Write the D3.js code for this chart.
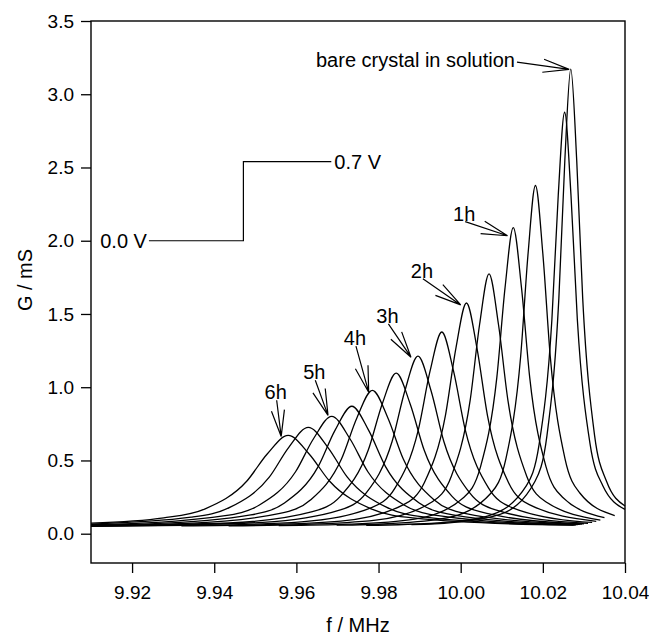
<!DOCTYPE html>
<html>
<head>
<meta charset="utf-8">
<script src="https://cdn.jsdelivr.net/npm/d3@7"></script>
<style>
  body { margin: 0; background: #fff; }
  text { font-family: "Liberation Sans", Arial, sans-serif; fill: #000; }
</style>
</head>
<body>
<svg id="chart" width="649" height="636"></svg>
<script>
// tick values
const xTicks = [9.92, 9.94, 9.96, 9.98, 10.00, 10.02, 10.04];
const yTicks = [0.0, 0.5, 1.0, 1.5, 2.0, 2.5, 3.0, 3.5];

// resonance sweeps, [f (MHz), G (mS)]
const sweep0 = [[9.988,0.062],[9.9978,0.076],[10.0094,0.130],[10.0181,0.358],[10.021,0.670],[10.0239,1.608],[10.02535,2.546],[10.0268,3.171],[10.02825,2.546],[10.0297,1.608],[10.0326,0.670],[10.0355,0.358],[10.04,0.189]];
const sweep1 = [[9.977,0.057],[9.9943,0.073],[10.0067,0.122],[10.016,0.328],[10.0191,0.611],[10.0222,1.461],[10.02375,2.311],[10.0253,2.877],[10.02685,2.311],[10.0284,1.461],[10.0315,0.611],[10.0346,0.328],[10.04,0.166]];
const sweep2 = [[9.9698,0.058],[9.9822,0.068],[9.9966,0.108],[10.0074,0.278],[10.011,0.511],[10.0146,1.211],[10.0164,1.911],[10.0182,2.377],[10.02,1.911],[10.0218,1.211],[10.0254,0.511],[10.029,0.278],[10.0375,0.124]];
const sweep3 = [[9.9557,0.055],[9.9728,0.065],[9.9888,0.100],[10.0008,0.249],[10.0048,0.454],[10.0088,1.067],[10.0108,1.680],[10.0128,2.089],[10.0148,1.680],[10.0168,1.067],[10.0208,0.454],[10.0248,0.249],[10.035,0.109]];
const sweep4 = [[9.9435,0.054],[9.9609,0.062],[9.9793,0.092],[9.9931,0.218],[9.9977,0.391],[10.0023,0.910],[10.0046,1.428],[10.0069,1.774],[10.0092,1.428],[10.0115,0.910],[10.0161,0.391],[10.0207,0.218],[10.034,0.093]];
const sweep5 = [[9.932,0.053],[9.9504,0.060],[9.9708,0.086],[9.9861,0.198],[9.9912,0.351],[9.9963,0.810],[9.99885,1.269],[10.0014,1.575],[10.00395,1.269],[10.0065,0.810],[10.0116,0.351],[10.0167,0.198],[10.033,0.084]];
const sweep6 = [[9.91,0.051],[9.9384,0.058],[9.9612,0.081],[9.9783,0.178],[9.984,0.311],[9.9897,0.711],[9.99255,1.111],[9.9954,1.377],[9.99825,1.111],[10.0011,0.711],[10.0068,0.311],[10.0125,0.178],[10.0296,0.081],[10.032,0.077]];
const sweep7 = [[9.91,0.052],[9.9266,0.057],[9.9518,0.077],[9.9707,0.162],[9.977,0.278],[9.9833,0.629],[9.98645,0.979],[9.9896,1.212],[9.99275,0.979],[9.9959,0.629],[10.0022,0.278],[10.0085,0.162],[10.0274,0.077],[10.031,0.071]];
const sweep8 = [[9.91,0.054],[9.9435,0.073],[9.9639,0.150],[9.9707,0.255],[9.9775,0.571],[9.9809,0.886],[9.9843,1.096],[9.9877,0.886],[9.9911,0.571],[9.9979,0.255],[10.0047,0.150],[10.0251,0.073],[10.030,0.068]];
const sweep9 = [[9.91,0.056],[9.9335,0.070],[9.956,0.138],[9.9635,0.232],[9.971,0.512],[9.97475,0.792],[9.9785,0.979],[9.98225,0.792],[9.986,0.512],[9.9935,0.232],[10.001,0.138],[10.0235,0.070],[10.0295,0.065]];
const sweep10 = [[9.91,0.059],[9.9243,0.067],[9.9489,0.128],[9.9571,0.210],[9.9653,0.458],[9.9694,0.705],[9.9735,0.870],[9.9776,0.705],[9.9817,0.458],[9.9899,0.210],[9.9981,0.128],[10.0227,0.067],[10.029,0.063]];
const sweep11 = [[9.91,0.062],[9.9158,0.065],[9.9422,0.121],[9.951,0.196],[9.9598,0.423],[9.9642,0.650],[9.9686,0.801],[9.973,0.650],[9.9774,0.423],[9.9862,0.196],[9.995,0.121],[10.0214,0.065],[10.0285,0.062]];
const sweep12 = [[9.91,0.066],[9.9344,0.113],[9.9439,0.181],[9.9534,0.386],[9.95815,0.590],[9.9629,0.726],[9.96765,0.590],[9.9724,0.386],[9.9819,0.181],[9.9914,0.113],[10.0199,0.063],[10.028,0.059]];
const sweep13 = [[9.91,0.072],[9.9277,0.108],[9.9378,0.170],[9.9479,0.358],[9.95295,0.546],[9.958,0.671],[9.96305,0.546],[9.9681,0.358],[9.9782,0.170],[9.9883,0.108],[10.0186,0.062],[10.0275,0.058]];

const sweeps = [sweep0, sweep1, sweep2, sweep3, sweep4, sweep5, sweep6,
                sweep7, sweep8, sweep9, sweep10, sweep11, sweep12, sweep13];

// arrow annotations: label, tail [f, G], tip [f, G]
const arrowLabels = ["bare crystal in solution", "1h", "2h", "3h", "4h", "5h", "6h"];
const arrowTails = [[10.0137,3.219],[10.0011,2.130],[9.9908,1.740],[9.9824,1.432],[9.9745,1.281],[9.9646,1.048],[9.9552,0.911]];
const arrowTips  = [[10.0264,3.170],[10.0114,2.034],[10.0000,1.562],[9.9879,1.205],[9.9776,0.966],[9.9677,0.808],[9.9563,0.664]];

// potential step inset
const stepF = [9.9241, 9.9471, 9.9471, 9.9685];
const stepG = [2.0, 2.0, 2.54, 2.54];
const stepLabels = ["0.0 V", "0.7 V"];

const margin = {top: 21, right: 24, bottom: 73, left: 91};
const w = 649, h = 636;

const svg = d3.select("#chart");

const x = d3.scaleLinear().domain([9.91, 10.04]).range([margin.left, w - margin.right]);
const y = d3.scaleLinear().domain([-0.2, 3.5]).range([h - margin.bottom, margin.top]);

// axes
svg.append("g")
    .attr("transform", `translate(0,${h - margin.bottom})`)
    .call(d3.axisBottom(x).tickValues(xTicks).tickFormat(d3.format(".2f")).tickSize(10).tickPadding(13))
    .call(g => g.select(".domain").remove());

svg.append("g")
    .attr("transform", `translate(${margin.left},0)`)
    .call(d3.axisLeft(y).tickValues(yTicks).tickFormat(d3.format(".1f")).tickSize(10).tickPadding(7))
    .call(g => g.select(".domain").remove());

svg.selectAll(".tick line").attr("stroke", "#000").attr("stroke-width", 1.3);
svg.selectAll(".tick text").style("font-size", "19px").style("font-family", '"Liberation Sans", Arial, sans-serif');

// frame
svg.append("rect")
    .attr("x", margin.left)
    .attr("y", margin.top)
    .attr("width", w - margin.left - margin.right)
    .attr("height", h - margin.top - margin.bottom)
    .attr("fill", "none")
    .attr("stroke", "#000")
    .attr("stroke-width", 1.4);

// axis titles
svg.append("text")
    .attr("x", 358)
    .attr("y", 632)
    .attr("text-anchor", "middle")
    .style("font-size", "20px")
    .text("f / MHz");

svg.append("text")
    .attr("transform", "translate(32,280) rotate(-90)")
    .attr("text-anchor", "middle")
    .style("font-size", "20px")
    .text("G / mS");

// sweeps
const line = d3.line()
    .x(d => x(d[0]))
    .y(d => y(d[1]))
    .curve(d3.curveMonotoneX);

svg.append("g")
    .selectAll("path")
    .data(sweeps)
    .enter()
    .append("path")
    .attr("d", line)
    .attr("fill", "none")
    .attr("stroke", "#000")
    .attr("stroke-width", 1.3);

// step inset
const step = stepF.map((f, i) => [f, stepG[i]]);
svg.append("path")
    .attr("d", d3.line().x(d => x(d[0])).y(d => y(d[1]))(step))
    .attr("fill", "none")
    .attr("stroke", "#000")
    .attr("stroke-width", 1.2);

svg.append("text")
    .attr("x", x(stepF[0]) - 2)
    .attr("y", y(stepG[0]) + 7)
    .attr("text-anchor", "end")
    .style("font-size", "20px")
    .text(stepLabels[0]);

svg.append("text")
    .attr("x", x(stepF[3]) + 3)
    .attr("y", y(stepG[3]) + 7)
    .style("font-size", "20px")
    .text(stepLabels[1]);

// arrows with open heads
const barbLen = 27, barbAng = toRad(14);
arrowLabels.forEach((label, i) => {
    const x0 = x(arrowTails[i][0]), y0 = y(arrowTails[i][1]);
    const x1 = x(arrowTips[i][0]), y1 = y(arrowTips[i][1]);
    const a = Math.atan2(y1 - y0, x1 - x0);
    const g = svg.append("g").attr("stroke", "#000").attr("stroke-width", 1.2).attr("fill", "none");

    g.append("path")
        .attr("d", `M${x0},${y0}L${x1},${y1}`
            + `M${x1 - barbLen * Math.cos(a - barbAng)},${y1 - barbLen * Math.sin(a - barbAng)}L${x1},${y1}`
            + `L${x1 - barbLen * Math.cos(a + barbAng)},${y1 - barbLen * Math.sin(a + barbAng)}`);

    if (i == 0) {
        // long label sits left of its arrow
        svg.append("text")
            .attr("x", x0 - 2)
            .attr("y", y0 + 5)
            .attr("text-anchor", "end")
            .style("font-size", "20px")
            .text(label);
    } else {
        svg.append("text")
            .attr("x", x0 - 1)
            .attr("y", y0 - 1)
            .attr("text-anchor", "middle")
            .style("font-size", "20px")
            .text(label);
    }
});

function toRad(deg) {
    return deg * Math.PI / 180
}
</script>
</body>
</html>
